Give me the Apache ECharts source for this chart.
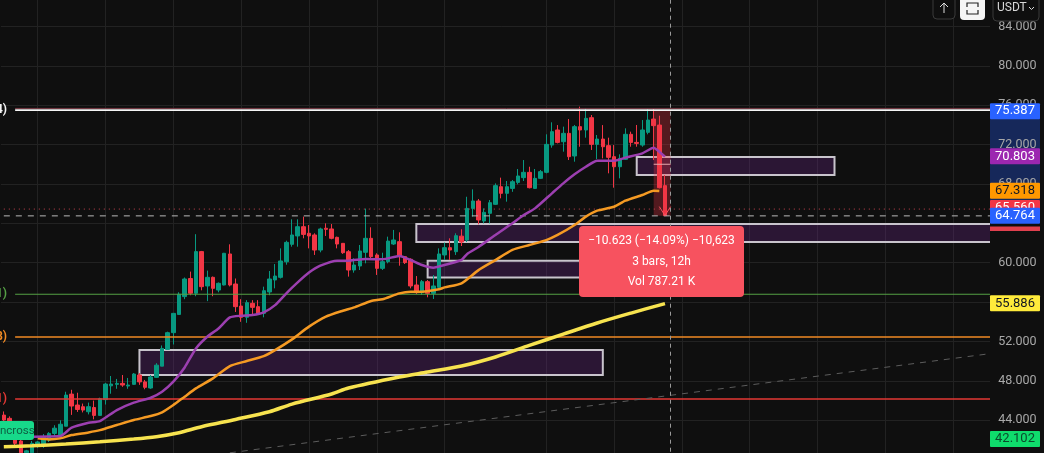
<!DOCTYPE html>
<html>
<head>
<meta charset="utf-8">
<style>html,body{margin:0;padding:0;background:#0f0f0f}#chart{width:1044px;height:453px}</style>
<script src="https://cdn.jsdelivr.net/npm/echarts@6/dist/echarts.min.js"></script>
</head>
<body>
<div id="chart"></div>
<script>
// open, close, low, high
var candles = [
[44.53,44.03,43.9,44.9],[44.2,43.0,42.9,44.4],[43.0,41.66,41.3,43.1],[41.9,40.7,40.5,42.0],[40.7,40.9,40.4,41.0],
[40.7,41.66,40.5,41.9],[41.4,41.8,41.2,41.9],[41.5,42.3,41.2,42.6],[42.0,42.67,41.8,42.8],[42.67,43.2,42.4,43.5],
[42.5,43.6,42.3,44.0],[43.4,46.56,43.4,46.9],[46.66,45.45,44.55,47.1],[45.55,45.1,44.85,46.8],[45.38,45.04,44.8,45.7],
[44.87,45.38,44.6,45.8],[45.3,44.5,44.1,46.0],[44.5,46.2,44.5,46.3],[46.1,47.68,45.6,47.8],[47.5,47.68,46.7,48.5],
[47.65,47.75,47.2,48.2],[47.75,47.58,47.4,48.6],[47.48,47.58,47.2,48.3],[47.65,48.7,47.6,48.8],[48.6,47.9,47.6,48.8],
[47.9,47.35,47.15,48.1],[47.28,48.4,47.2,48.6],[48.36,49.6,48.3,49.8],[49.5,51.3,49.5,51.6],[51.2,52.9,51.2,53.0],
[52.9,54.86,51.7,54.9],[54.75,56.8,54.7,57.0],[56.56,58.35,56.3,58.5],[58.4,56.9,56.7,59.1],[56.9,61.13,56.6,62.9],
[61.13,57.57,57.2,61.2],[57.64,58.52,56.1,59.2],[58.52,57.4,56.6,58.6],[57.23,57.91,57.0,58.0],[57.74,60.96,57.7,61.0],
[60.89,57.74,57.6,61.87],[57.84,55.54,55.0,58.4],[55.6,54.46,54.0,56.3],[54.46,55.95,53.9,56.2],[55.88,55.47,54.7,56.2],
[55.54,54.86,54.7,56.2],[54.86,57.16,54.46,57.57],[57.03,58.35,56.7,59.16],[58.25,58.65,57.4,59.87],[58.52,60.18,58.4,61.46],
[60.1,62.07,59.8,62.24],[61.87,62.82,61.63,64.41],[62.72,63.66,61.63,64.41],[63.66,62.88,62.48,64.68],[62.99,62.72,61.46,63.83],
[62.82,61.29,60.79,62.99],[61.29,63.43,61.06,63.56],[63.5,63.39,62.72,64.0],[63.43,62.48,62.38,63.93],[62.58,61.9,61.46,62.65],
[61.97,61.02,60.9,62.0],[61.12,59.26,58.59,61.29],[59.26,59.77,58.99,60.45],[59.67,61.19,59.26,61.8],[61.06,62.48,59.94,65.5],
[62.48,60.62,60.28,63.6],[60.79,59.43,58.76,60.96],[59.43,60.11,59.26,61.02],[60.11,62.2,59.94,62.65],[61.9,62.31,61.8,63.33],
[62.14,60.68,59.7,63.09],[60.62,60.01,59.87,60.68],[60.35,57.64,57.4,60.45],[57.74,56.96,56.83,58.65],[56.96,58.08,56.73,58.25],
[58.08,56.89,56.49,58.25],[56.89,57.64,56.32,58.75],[57.5,60.89,57.4,61.46],[60.79,61.53,60.28,62.04],[61.53,61.29,60.28,62.48],
[61.12,62.75,60.79,62.99],[62.7,62.1,61.7,63.4],[62.3,65.52,62.1,66.7],[65.52,66.27,64.68,67.45],[66.27,64.34,63.9,66.47],
[64.24,65.12,64.0,65.52],[65.02,66.1,64.0,66.37],[65.93,67.83,65.86,68.06],[67.72,67.05,66.54,68.64],[67.05,67.72,66.2,68.3],
[67.55,68.23,67.2,68.4],[68.16,68.81,67.96,69.52],[68.64,69.18,68.3,70.43],[69.18,67.62,67.55,69.75],[67.55,68.57,67.49,69.52],
[68.57,69.25,68.5,69.42],[69.18,72.02,69.08,73.04],[71.95,73.31,71.68,74.26],[73.48,72.22,72.12,73.98],[72.29,73.14,71.28,73.82],
[73.14,70.77,70.43,74.59],[70.84,73.82,70.26,73.99],[73.82,73.48,71.78,75.85],[73.48,74.66,72.7,75.68],[74.73,72.02,71.45,75.0],
[72.02,72.56,70.53,72.97],[72.56,71.78,70.6,73.98],[71.89,70.7,69.08,72.7],[70.77,69.75,67.62,71.95],[69.75,70.6,68.57,71.01],
[70.5,73.04,70.43,73.65],[73.04,72.22,71.78,73.31],[72.22,72.12,71.78,73.99],[71.95,73.48,71.78,74.49],[73.24,74.49,73.04,75.61],
[74.59,73.92,70.43,75.61],[73.98,67.62,67.55,74.93],[67.83,64.78,64.75,68.9]
];
// [bar index, value]
var purpleLine = [[5,42.34],[10,42.4],[12,43.25],[15,43.76],[17,43.92],[20,45.04],[23,45.79],[26,46.29],[28,46.9],[30,47.92],[32,49.37],[34,51.3],[36,52.49],[38,53.33],[40,54.45],[42,54.62],[44,54.69],[46,54.96],[48,55.7],[50,56.9],[52,58.0],[54,59.0],[56,59.7],[59,60.21],[61,60.21],[64,60.38],[67,60.35],[70,60.68],[72,60.28],[74,59.77],[76,59.5],[78,59.77],[81,60.3],[82,60.9],[84,61.6],[87,62.82],[90,64.0],[92,64.85],[94,65.52],[97,67.05],[99,68.06],[101,68.98],[103,69.75],[105,70.36],[108,70.36],[110,70.67],[113,71.11],[115,71.68],[116,71.28],[117,70.77]];
var orangeLine = [[6,42.17],[8,42.06],[10,42.17],[12,42.5],[15,42.77],[17,43.0],[20,43.52],[23,44.03],[26,44.43],[28,44.81],[30,45.55],[32,46.4],[34,47.24],[37,48.26],[40,49.51],[43,50.02],[46,50.52],[48,51.13],[51,52.22],[54,53.51],[57,54.53],[60,55.13],[62,55.47],[65,56.12],[67,56.29],[70,56.89],[72,57.06],[74,57.06],[77,57.3],[78,57.5],[81,57.91],[84,59.25],[87,60.27],[90,61.3],[93,61.8],[96,62.3],[98,62.82],[101,63.83],[103,64.68],[105,65.29],[108,65.69],[110,66.3],[113,66.88],[115,67.32],[116,67.28]];
var yellowLine = [[0,41.32],[5,41.42],[11,41.59],[17,41.83],[23,42.1],[27,42.34],[31,42.74],[35,43.35],[41,44.09],[47,44.87],[51,45.65],[58,46.67],[61,47.28],[70,48.4],[75,48.9],[81,49.51],[87,50.43],[93,51.6],[99,52.75],[105,53.88],[111,54.89],[117,55.85]];
var trendLine = [[40,40.7],[174,50.73]];
var arrowHead = [[116,65.7],[117,64.8],[118,65.7]];
var crossMark = [[115,70.0],[118,70.0]];
// [first bar, last bar, top value, bottom value]
var zones = [[24,106,51.14,48.6],[73,176,63.93,62.1],[75,105,60.2,58.5],[112,147,70.73,68.9]];
var measureBox = [115,118,75.5,64.76];
// value, colour, width, text on the left
var levels = [[75.67,'#7a3b45',1,''],[75.5,'#f5f5f5',1.6,'4)'],[56.8,'#55a045',1.2,'1)'],[52.45,'#f08a24',1.5,'8)'],[46.16,'#e53935',1.5,'1)']];
var dottedLevel = [[0,65.45],[176,65.45]];
var dashedLevel = [[0,64.76],[176,64.76]];
var crosshairBar = 118;
var gridBars = [6,18,30,42,54,66,78,96,108,120,132,144,156,168];
var hiddenTicks = [64];
// value, background, text colour
var priceTags = [[75.387,'#2962ff','#fff'],[70.803,'#9c27b0','#fff'],[67.318,'#ff9800','#131722'],[65.56,'#f23645','#fff'],[64.764,'#2962ff','#fff'],[55.886,'#ffeb3b','#131722'],[42.102,'#0fdc6c','#0b4a2c']];
var measureText = ['\u221210.623 (\u221214.09%) \u221210,623','3 bars, 12h','Vol 787.21 K'];

var categories = [];
for (var i = 0; i < 177; i++) categories.push(String(i));

var fontName = 'Roboto';
var myChart = echarts.init(document.getElementById('chart'));

function lineSeries(data, color, width, type, z, smooth) {
    return {type:'line',data:data,showSymbol:false,symbol:'none',smooth:smooth||false,z:z||3,silent:true,lineStyle:{color:color,width:width,type:type||'solid'}};
}

var levelSeries = levels.map(function(l){
    return lineSeries([[2,l[0]],[176,l[0]]],l[1],l[2],'solid',3);
});

option = {
    backgroundColor:'#0f0f0f',
    animation:false,
    grid:{left:1,width:1000.2,top:-13,height:472.7,outerBoundsMode:'none'},
    xAxis:{
        type:'category',
        data:categories,
        boundaryGap:true,
        axisLine:{show:false},
        axisTick:{show:false},
        axisLabel:{show:false},
        splitLine:{show:true,alignWithLabel:true,lineStyle:{color:'#222222',width:1},
            interval:function(idx){ return gridBars.indexOf(idx) >= 0; }}
    },
    yAxis:[{
        type:'value',
        position:'right',
        min:40,max:88,interval:4,
        axisLine:{show:false},
        axisTick:{show:false},
        axisLabel:{show:false},
        splitLine:{show:true,lineStyle:{color:'#222222',width:1}}
    },{
        // price labels, kept above the strip that closes the plot on the right
        type:'value',
        position:'right',
        offset:-11,
        z:50,
        min:40,max:88,interval:4,
        axisLine:{show:false},
        axisTick:{show:false},
        splitLine:{show:false},
        axisLabel:{color:'#a8a8a8',fontSize:12.5,fontFamily:fontName,margin:8,
            formatter:function(v){ return hiddenTicks.indexOf(v) >= 0 ? '' : v.toFixed(3); }}
    }],
    series:[
        {
            type:'candlestick',
            data:candles,
            barWidth:4,
            silent:true,
            z:2,
            itemStyle:{color:'#089981',color0:'#f23645',borderColor:'#089981',borderColor0:'#f23645',borderWidth:1},
            markArea:{
                silent:true,
                data:zones.map(function(b){
                    return [{coord:[b[0],b[2]],itemStyle:{color:'rgba(110,40,140,0.3)',borderColor:'#c8c4cc',borderWidth:2}},{coord:[b[1],b[3]]}];
                }).concat([[{coord:[measureBox[0],measureBox[2]],itemStyle:{color:'rgba(242,54,69,0.3)',borderWidth:0}},{coord:[measureBox[1],measureBox[3]]}]])
            },
            markLine:{silent:true,symbol:'none',animation:false,
                data:[{xAxis:crosshairBar,lineStyle:{color:'#9a9a9a',width:1,type:[4,4]},label:{show:false}}]}
        }
    ].concat(levelSeries).concat([
        lineSeries(dottedLevel,'#c8434f',1,[1,4],3),
        lineSeries(dashedLevel,'#b8b8b8',1,[6,6],3),
        lineSeries(trendLine,'#5c5c5c',1,[6,6],3),
        lineSeries(yellowLine,'#f7e34f',3.5,'solid',4,0.3),
        lineSeries(orangeLine,'#f59a23',2.5,'solid',4,0.2),
        lineSeries(purpleLine,'#9c3fb0',2.5,'solid',4,0.2),
        lineSeries(arrowHead,'#f7525f',1,'solid',5),
        lineSeries(crossMark,'#e8a8ac',1,'solid',5)
    ])
};
myChart.setOption(option);

function priceY(v){ return myChart.convertToPixel({yAxisIndex:0},v); }

var g = [];
// strip right of the plot
g.push({type:'rect',z:10,shape:{x:990,y:0,width:54,height:453},style:{fill:'#0f0f0f'}});
// blue band on the price scale
g.push({type:'rect',z:11,shape:{x:990,y:priceY(75.387),width:50,height:priceY(64.764)-priceY(75.387)},style:{fill:'#16285a'}});
priceTags.forEach(function(t,n){
    var y = priceY(t[0]);
    g.push({type:'rect',z:100+n*2,shape:{x:990,y:y-8,width:50,height:16,r:1},style:{fill:t[1]}});
    g.push({type:'text',z:101+n*2,style:{x:1015,y:y,text:t[0].toFixed(3),fill:t[2],font:'13px '+fontName,textAlign:'center',textVerticalAlign:'middle'}});
});
g.push({type:'rect',z:99,shape:{x:990,y:226.5,width:50,height:4.5},style:{fill:'#e0404e'}});
// clipped study names on the left edge
levels.forEach(function(l){
    if (!l[3]) return;
    g.push({type:'text',z:101,style:{x:7,y:priceY(l[0]),text:l[3],fill:l[1],font:'bold 12px '+fontName,textAlign:'right',textVerticalAlign:'middle'}});
});
// measure label
g.push({type:'rect',z:100,shape:{x:579,y:226,width:165,height:71,r:4},style:{fill:'#f7525f'}});
measureText.forEach(function(s,n){
    g.push({type:'text',z:101,style:{x:661.5,y:241+n*20.5,text:s,fill:'#ffffff',font:'12px '+fontName,textAlign:'center',textVerticalAlign:'middle'}});
});
// cross tag bottom left
g.push({type:'rect',z:100,shape:{x:-6,y:421,width:40,height:19,r:3},style:{fill:'#17d98a'}});
g.push({type:'text',z:101,style:{x:0,y:431,text:'ncross',fill:'#0e5e43',font:'11.5px '+fontName,textVerticalAlign:'middle'}});
// buttons at the top right
g.push({type:'rect',z:100,shape:{x:933,y:-4,width:22,height:23,r:4},style:{fill:'#0f0f0f',stroke:'#3a3a3a',lineWidth:1}});
g.push({type:'polyline',z:101,shape:{points:[[944,13],[944,3]]},style:{stroke:'#dddddd',lineWidth:1,fill:null}});
g.push({type:'polyline',z:101,shape:{points:[[940,7],[944,3],[948,7]]},style:{stroke:'#dddddd',lineWidth:1,fill:null}});
g.push({type:'rect',z:100,shape:{x:960,y:-4,width:25,height:24,r:4},style:{fill:'#f5f5f5'}});
g.push({type:'polyline',z:101,shape:{points:[[967,7],[967,3],[978,3],[978,7]]},style:{stroke:'#222222',lineWidth:1.2,fill:null}});
g.push({type:'polyline',z:101,shape:{points:[[967,10],[967,14],[978,14],[978,10]]},style:{stroke:'#222222',lineWidth:1.2,fill:null}});
g.push({type:'rect',z:100,shape:{x:993,y:-4,width:46,height:25,r:4},style:{fill:'#0f0f0f',stroke:'#3a3a3a',lineWidth:1}});
g.push({type:'text',z:101,style:{x:997,y:8,text:'USDT',fill:'#d8d8d8',font:'12px '+fontName,textVerticalAlign:'middle'}});
g.push({type:'polyline',z:101,shape:{points:[[1029,7],[1031.5,9.5],[1034,7]]},style:{stroke:'#d8d8d8',lineWidth:1,fill:null}});
myChart.setOption({graphic:g});
</script>
</body>
</html>
